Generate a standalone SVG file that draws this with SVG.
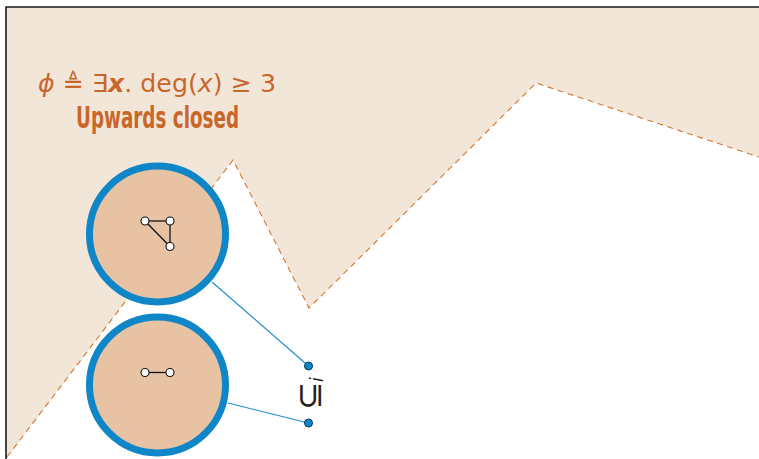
<svg xmlns="http://www.w3.org/2000/svg" width="759" height="459" viewBox="0 0 759 459">
<style>
.region{fill:#f2e6d9;stroke:none}
.bound{fill:none;stroke:#d2772f;stroke-width:1.1;stroke-dasharray:6 4.5}
.world{fill:#e7c3a4;stroke:#0e86c8;stroke-width:7}
.v{fill:#fff;stroke:#111;stroke-width:1.1}
.e{stroke:#111;stroke-width:1.3}
.link{stroke:#1a8acb;stroke-width:1.1;fill:none}
.dot{fill:#0e86c8;stroke:#0b3550;stroke-width:1}
.lbl{fill:#c9672a;font-family:"DejaVu Sans","Liberation Sans",sans-serif}
</style>
<rect x="0" y="0" width="759" height="459" fill="#fff"/>
<polygon class="region" points="6,7 759,7 759,157 536,83 309,308 233,160 6,459"/>
<polyline class="bound" points="7,457 233,160 309,308 536,83 759,157"/>
<path d="M6,459 V7 H759" fill="none" stroke="#1a1a1a" stroke-width="1.6"/>
<g id="label">
<text class="lbl" x="38" y="92" font-size="25" textLength="238" lengthAdjust="spacingAndGlyphs"><tspan font-style="italic">ϕ</tspan> ≜ ∃<tspan font-style="italic" font-weight="bold">x</tspan>. deg(<tspan font-style="italic">x</tspan>) ≥ 3</text>
<text class="lbl" x="76" y="128" font-size="30" font-weight="bold" font-family="'Liberation Sans',sans-serif" textLength="163" lengthAdjust="spacingAndGlyphs">Upwards closed</text>
</g>
<g id="connectors">
<line class="link" x1="212" y1="282" x2="308.5" y2="366"/>
<line class="link" x1="228" y1="403" x2="308.5" y2="423"/>
<circle class="dot" cx="308.5" cy="366" r="4"/>
<circle class="dot" cx="308.5" cy="423" r="4"/>
<text transform="translate(321,410) rotate(-90)" font-family="'DejaVu Sans',sans-serif" font-size="34" fill="#222" font-weight="200">⊆<tspan font-size="17" font-style="italic" dy="2">i</tspan></text>
</g>
<g id="world-triangle">
<circle class="world" cx="157.5" cy="234" r="68"/>
<line class="e" x1="145" y1="221" x2="170" y2="221"/>
<line class="e" x1="170" y1="221" x2="170" y2="246.5"/>
<line class="e" x1="145" y1="221" x2="170" y2="246.5"/>
<circle class="v" cx="145" cy="221" r="4"/>
<circle class="v" cx="170" cy="221" r="4"/>
<circle class="v" cx="170" cy="246.5" r="4"/>
</g>
<g id="world-edge">
<circle class="world" cx="157.5" cy="385" r="68"/>
<line class="e" x1="145" y1="372.5" x2="170" y2="372.5"/>
<circle class="v" cx="145" cy="372.5" r="4"/>
<circle class="v" cx="170" cy="372.5" r="4"/>
</g>
</svg>
